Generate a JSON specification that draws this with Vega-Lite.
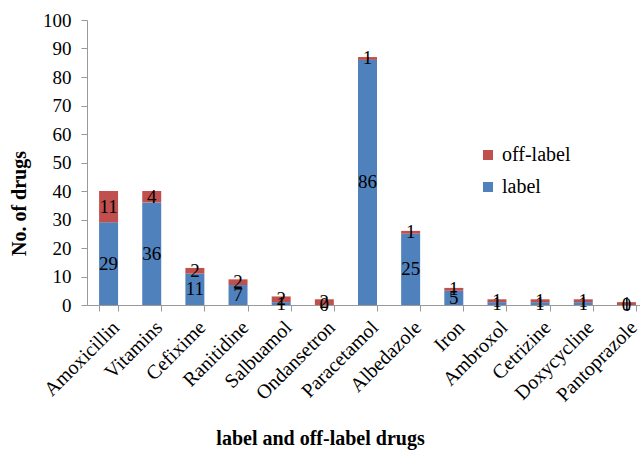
{
  "$schema": "https://vega.github.io/schema/vega-lite/v6.json",
  "autosize": "none",
  "width": 553,
  "height": 285,
  "padding": {"left": 87, "top": 20, "right": 0, "bottom": 150},
  "background": "white",
  "config": {
    "view": {"stroke": null},
    "font": "Liberation Serif",
    "axisY": {
      "values": [0, 10, 20, 30, 40, 50, 60, 70, 80, 90, 100],
      "labelOverlap": false,
      "grid": false,
      "labelFont": "Liberation Serif",
      "labelFontSize": 19,
      "labelColor": "black",
      "domainColor": "#999999",
      "tickColor": "#999999",
      "tickSize": 6,
      "labelPadding": 10,
      "titleFont": "Liberation Serif",
      "titleFontSize": 20,
      "titleFontWeight": "bold",
      "titleColor": "black",
      "titleX": -68,
      "titleY": 183,
      "titleAlign": "center",
      "titleBaseline": "middle",
      "titleAngle": -90
    }
  },
  "data": {
    "values": [
      {"drug": "Amoxicillin", "type": "label", "count": 29},
      {"drug": "Amoxicillin", "type": "off-label", "count": 11},
      {"drug": "Vitamins", "type": "label", "count": 36},
      {"drug": "Vitamins", "type": "off-label", "count": 4},
      {"drug": "Cefixime", "type": "label", "count": 11},
      {"drug": "Cefixime", "type": "off-label", "count": 2},
      {"drug": "Ranitidine", "type": "label", "count": 7},
      {"drug": "Ranitidine", "type": "off-label", "count": 2},
      {"drug": "Salbuamol", "type": "label", "count": 1},
      {"drug": "Salbuamol", "type": "off-label", "count": 2},
      {"drug": "Ondansetron", "type": "label", "count": 0},
      {"drug": "Ondansetron", "type": "off-label", "count": 2},
      {"drug": "Paracetamol", "type": "label", "count": 86},
      {"drug": "Paracetamol", "type": "off-label", "count": 1},
      {"drug": "Albedazole", "type": "label", "count": 25},
      {"drug": "Albedazole", "type": "off-label", "count": 1},
      {"drug": "Iron", "type": "label", "count": 5},
      {"drug": "Iron", "type": "off-label", "count": 1},
      {"drug": "Ambroxol", "type": "label", "count": 1},
      {"drug": "Ambroxol", "type": "off-label", "count": 1},
      {"drug": "Cetrizine", "type": "label", "count": 1},
      {"drug": "Cetrizine", "type": "off-label", "count": 1},
      {"drug": "Doxycycline", "type": "label", "count": 1},
      {"drug": "Doxycycline", "type": "off-label", "count": 1},
      {"drug": "Pantoprazole", "type": "label", "count": 0},
      {"drug": "Pantoprazole", "type": "off-label", "count": 1}
    ]
  },
  "transform": [
    {"stack": "count", "groupby": ["drug"], "sort": [{"field": "type", "order": "ascending"}], "as": ["y0", "y1"]},
    {"calculate": "(datum.y0 + datum.y1) / 2", "as": "mid"}
  ],
  "encoding": {
    "x": {
      "field": "drug",
      "type": "nominal",
      "sort": null,
      "scale": {"paddingInner": 0.56, "paddingOuter": 0.28, "range": [0, 561]},
      "axis": {
        "title": "label and off-label drugs",
        "titleFont": "Liberation Serif",
        "titleFontSize": 20,
        "titleFontWeight": "bold",
        "titleColor": "black",
        "titleX": 233,
        "titleY": 133,
        "titleAlign": "center",
        "titleBaseline": "middle",
        "labelAngle": -45,
        "labelFont": "Liberation Serif",
        "labelFontSize": 20,
        "labelColor": "black",
        "labelPadding": 6,
        "labelDx": -3,
        "labelOverlap": false,
        "tickBand": "extent",
        "domainColor": "#999999",
        "tickColor": "#999999",
        "tickSize": 6
      }
    }
  },
  "layer": [
    {
      "mark": {"type": "bar"},
      "encoding": {
        "y": {
          "field": "y0",
          "type": "quantitative",
          "scale": {"domain": [0, 100]},
          "axis": {"title": "No. of drugs", "values": [0, 10, 20, 30, 40, 50, 60, 70, 80, 90, 100], "labelOverlap": false}
        },
        "y2": {"field": "y1"},
        "color": {
          "field": "type",
          "type": "nominal",
          "scale": {"domain": ["off-label", "label"], "range": ["#C0504D", "#4F81BD"]},
          "legend": {
            "title": null,
            "orient": "none",
            "legendX": 391,
            "legendY": 125,
            "symbolType": "square",
            "symbolSize": 100,
            "symbolStrokeWidth": 0,
            "labelFont": "Liberation Serif",
            "labelFontSize": 20,
            "labelColor": "black",
            "rowPadding": 12,
            "labelOffset": 4
          }
        }
      }
    },
    {
      "mark": {"type": "text", "font": "Liberation Serif", "fontSize": 19, "color": "black", "baseline": "middle"},
      "encoding": {
        "y": {
          "field": "mid",
          "type": "quantitative",
          "axis": {"title": "No. of drugs", "values": [0, 10, 20, 30, 40, 50, 60, 70, 80, 90, 100], "labelOverlap": false}
        },
        "text": {"field": "count", "type": "quantitative"}
      }
    }
  ]
}
